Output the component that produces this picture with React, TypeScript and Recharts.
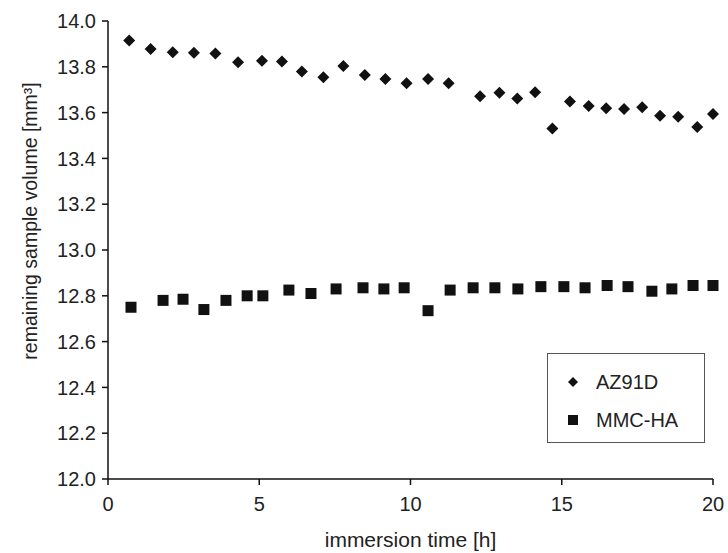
import { ScatterChart, Scatter, XAxis, YAxis, Legend } from "recharts";

// immersion time [h] and remaining volume [mm³]
const azTime = [0.7, 1.41, 2.14, 2.84, 3.55, 4.3, 5.09, 5.75, 6.41, 7.12, 7.78, 8.49, 9.17, 9.87, 10.58, 11.26, 12.3, 12.94, 13.53, 14.12, 14.69, 15.27, 15.89, 16.47, 17.06, 17.66, 18.25, 18.85, 19.48, 20.0];
const azVolume = [13.915, 13.878, 13.864, 13.861, 13.858, 13.82, 13.826, 13.823, 13.779, 13.754, 13.803, 13.764, 13.747, 13.728, 13.747, 13.728, 13.671, 13.687, 13.662, 13.689, 13.531, 13.648, 13.629, 13.619, 13.616, 13.623, 13.586, 13.582, 13.537, 13.594];

const mmcTime = [0.76, 1.82, 2.48, 3.17, 3.9, 4.6, 5.12, 5.98, 6.71, 7.54, 8.43, 9.12, 9.79, 10.58, 11.31, 12.07, 12.79, 13.55, 14.31, 15.07, 15.77, 16.5, 17.19, 17.98, 18.64, 19.34, 20.0];
const mmcVolume = [12.75, 12.78, 12.785, 12.74, 12.78, 12.8, 12.8, 12.825, 12.81, 12.83, 12.835, 12.83, 12.835, 12.735, 12.825, 12.835, 12.835, 12.83, 12.84, 12.84, 12.835, 12.845, 12.84, 12.82, 12.83, 12.845, 12.845];

const xTicks = [0, 5, 10, 15, 20];
const yTicks = [12.0, 12.2, 12.4, 12.6, 12.8, 13.0, 13.2, 13.4, 13.6, 13.8, 14.0];

const az = azTime.map((t, i) => ({ t, v: azVolume[i] }));
const mmc = mmcTime.map((t, i) => ({ t, v: mmcVolume[i] }));

const FONT = "'Liberation Sans', Arial, sans-serif";
const INK = "#111";

function Diamond({ cx, cy, r = 6 }: any) {
  return <path d={`M${cx},${cy - r}L${cx + r},${cy}L${cx},${cy + r}L${cx - r},${cy}Z`} fill={INK} />;
}

function Square({ cx, cy, s = 11 }: any) {
  return <rect x={cx - s / 2} y={cy - s / 2} width={s} height={s} fill={INK} />;
}

function LegendBox() {
  return (
    <div
      style={{
        width: 158,
        height: 90,
        boxSizing: "border-box",
        border: "1.5px solid #555",
        background: "#fff",
        position: "relative",
      }}
    >
      <svg width={158} height={90} style={{ position: "absolute", left: 0, top: 0 }}>
        <Diamond cx={25} cy={28} r={5} />
        <Square cx={25} cy={66} s={10} />
        <text x={48} y={28} dy="0.35em" fontFamily={FONT} fontSize={20} fill="#222">AZ91D</text>
        <text x={48} y={66} dy="0.35em" fontFamily={FONT} fontSize={20} fill="#222">MMC-HA</text>
      </svg>
    </div>
  );
}

function YTitle() {
  return (
    <text
      x={30}
      y={221}
      transform="rotate(-90 30 221)"
      textAnchor="middle"
      dominantBaseline="central"
      fontFamily={FONT}
      fontSize={19.5}
      fill="#222"
    >
      remaining sample volume [mm³]
    </text>
  );
}

export default function App() {
  return (
    <div style={{ position: "absolute", left: 0, top: 0, width: 728, height: 553, background: "#fff" }}>
      <ScatterChart width={728} height={553} margin={{ top: 21, right: 15, bottom: 0, left: 0 }}>
        <XAxis
          type="number"
          dataKey="t"
          domain={[0, 20]}
          ticks={xTicks}
          height={74}
          tickSize={6}
          tickMargin={12}
          stroke={INK}
          strokeWidth={1.5}
          tick={{ fill: "#222", fontSize: 20, fontFamily: FONT }}
          label={{ value: "immersion time [h]", position: "insideBottom", offset: 6, fill: "#222", fontSize: 21, fontFamily: FONT }}
        />
        <YAxis
          type="number"
          dataKey="v"
          domain={[12, 14]}
          ticks={yTicks}
          width={108}
          tickSize={6}
          tickMargin={6}
          stroke={INK}
          strokeWidth={1.5}
          tickFormatter={(v: number) => v.toFixed(1)}
          tick={{ fill: "#222", fontSize: 20, fontFamily: FONT }}
          label={{ content: () => <YTitle /> }}
        />
        <Legend
          layout="horizontal"
          align="center"
          verticalAlign="middle"
          content={() => <LegendBox />}
          wrapperStyle={{ left: 547, top: 353, width: 158, height: 90 }}
        />
        <Scatter name="AZ91D" data={az} fill={INK} shape={(p: any) => <Diamond cx={p.cx} cy={p.cy} />} isAnimationActive={false} />
        <Scatter name="MMC-HA" data={mmc} fill={INK} shape={(p: any) => <Square cx={p.cx} cy={p.cy} />} isAnimationActive={false} />
      </ScatterChart>
    </div>
  );
}
